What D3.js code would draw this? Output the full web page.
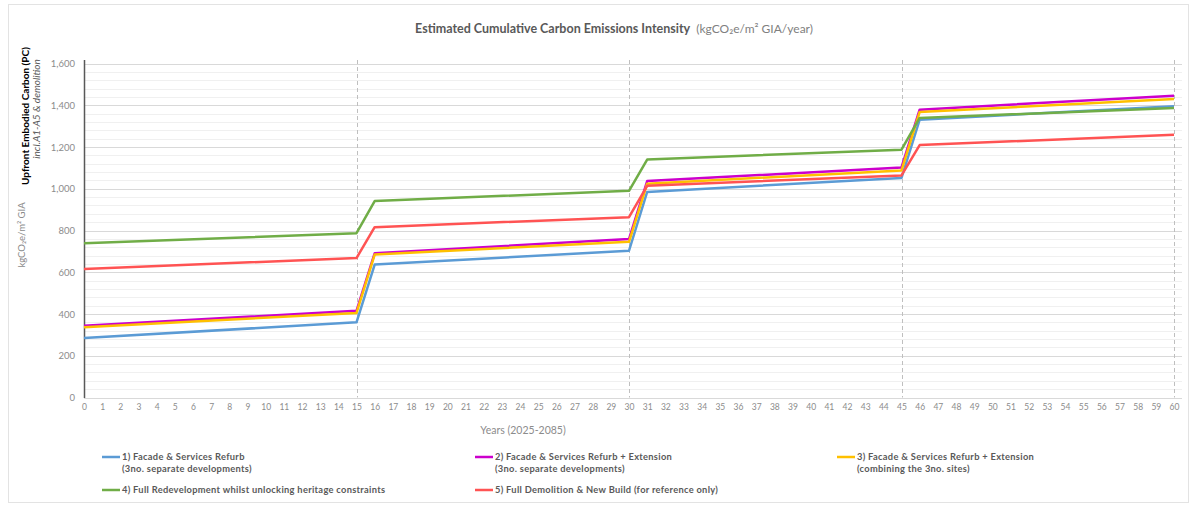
<!DOCTYPE html>
<html><head><meta charset="utf-8">
<script src="https://cdn.jsdelivr.net/npm/d3@7"></script>
<style>
html,body{margin:0;padding:0;background:#fff;}
svg{display:block;font-family:Lato,"Noto Sans",sans-serif;}
</style></head>
<body><svg id="c" width="1192" height="506"></svg>
<script>
// ---- data ----
const keyYears = [0, 15, 16, 30, 31, 45, 46, 60];
const s1 = [285, 360, 637, 703, 985, 1052, 1331, 1395];
const s2 = [344, 415, 691, 759, 1037, 1102, 1379, 1446];
const s3 = [337, 405, 685, 746, 1024, 1088, 1368, 1430];
const s4 = [739, 787, 941, 990, 1140, 1187, 1339, 1387];
const s5 = [616, 668, 816, 864, 1014, 1064, 1209, 1259];
const seriesNames = [
  ["1) Facade & Services Refurb", "(3no. separate developments)"],
  ["2) Facade & Services Refurb + Extension", "(3no. separate developments)"],
  ["3) Facade & Services Refurb + Extension", "(combining the 3no. sites)"],
  ["4) Full Redevelopment whilst unlocking heritage constraints"],
  ["5) Full Demolition & New Build (for reference only)"]
];
const seriesColors = ["#5B9BD5", "#CC00CC", "#FFC000", "#70AD47", "#FF5353"];
const xTicks = d3.range(0, 61);
const yTicks = [0, 200, 400, 600, 800, 1000, 1200, 1400, 1600];
const phaseYears = [15, 30, 45, 60];

const series = [s1, s2, s3, s4, s5];

const svg = d3.select("#c");
svg.append("rect").attr("x", 8.5).attr("y", 4.5).attr("width", 1180).attr("height", 498)
  .attr("fill", "none").attr("stroke", "#e3e3e3");

const x = d3.scaleLinear().domain([0, 60]).range([84, 1174]);
const y = d3.scaleLinear().domain([0, 1600]).range([397.5, 63.5]);
const gridRight = 1182;

const g = svg.append("g");
g.selectAll("line.minor").data(d3.range(0, 1601, 40).filter(v => v % 200 !== 0))
  .join("line").attr("x1", 84).attr("x2", gridRight)
  .attr("y1", d => Math.round(y(d)) + 0.5).attr("y2", d => Math.round(y(d)) + 0.5)
  .attr("stroke", "#f0f0f0").attr("stroke-width", 1);
g.selectAll("line.major").data(yTicks)
  .join("line").attr("x1", 84).attr("x2", gridRight)
  .attr("y1", d => Math.round(y(d)) + 0.5).attr("y2", d => Math.round(y(d)) + 0.5)
  .attr("stroke", "#d9d9d9").attr("stroke-width", 1);

svg.append("g").selectAll("line").data(phaseYears).join("line")
  .attr("x1", d => Math.round(x(d)) + 0.5).attr("x2", d => Math.round(x(d)) + 0.5)
  .attr("y1", 60).attr("y2", 397.5)
  .attr("stroke", "#bfbfbf").attr("stroke-dasharray", "4,3").attr("stroke-width", 1);

const yAxis = d3.axisLeft(y).tickValues(yTicks).tickFormat(d3.format(",")).tickSize(0).tickPadding(9);
const ya = svg.append("g").attr("transform", "translate(84,0)").call(yAxis);
ya.select(".domain").remove();
ya.selectAll("text").attr("fill", "#8c8c8c").attr("font-size", 9.5).attr("font-family", "Lato");
svg.append("line").attr("x1", 84.5).attr("x2", 84.5).attr("y1", 60).attr("y2", 398)
  .attr("stroke", "#595959").attr("stroke-width", 1.5);

const xAxis = d3.axisBottom(x).tickValues(xTicks).tickSize(0).tickPadding(6);
const xa = svg.append("g").attr("transform", "translate(0,398)").call(xAxis);
xa.select(".domain").remove();
xa.selectAll("text").attr("fill", "#8c8c8c").attr("font-size", 8.5).attr("font-family", "Lato");

const line = d3.line().x((d, i) => x(keyYears[i])).y(d => y(d));
svg.append("g").selectAll("path").data(series).join("path")
  .attr("d", d => line(d)).attr("fill", "none")
  .attr("stroke", (d, i) => seriesColors[i]).attr("stroke-width", 2.5)
  .attr("stroke-linejoin", "round");

const t = svg.append("text").attr("x", 614).attr("y", 33).attr("text-anchor", "middle")
  .attr("fill", "#595959").attr("font-size", 12.5);
t.append("tspan").attr("font-weight", 700).text("Estimated Cumulative Carbon Emissions Intensity");
t.append("tspan").attr("font-size", 12).attr("fill", "#7f7f7f").text("\u00a0\u00a0(kgCO\u2082e/m\u00b2 GIA/year)");

svg.append("text").attr("transform", "translate(29,116) rotate(-90)").attr("text-anchor", "middle")
  .attr("font-size", 10).attr("font-weight", 700).attr("fill", "#000").text("Upfront Embodied Carbon (PC)");
svg.append("text").attr("transform", "translate(40,109) rotate(-90)").attr("text-anchor", "middle")
  .attr("font-size", 10).attr("font-style", "italic").attr("fill", "#595959").text("incl.A1-A5 & demolition");
svg.append("text").attr("transform", "translate(25,235) rotate(-90)").attr("text-anchor", "middle")
  .attr("font-size", 9.5).attr("fill", "#8c8c8c").text("kgCO\u2082e/m\u00b2 GIA");

svg.append("text").attr("x", 523).attr("y", 434).attr("text-anchor", "middle")
  .attr("font-size", 10.5).attr("fill", "#8c8c8c").text("Years (2025-2085)");

const legPos = [[102, 457], [475, 457], [837, 457], [102, 490], [475, 490]];
const lg = svg.append("g").selectAll("g").data(seriesNames).join("g")
  .attr("transform", (d, i) => `translate(${legPos[i][0]},${legPos[i][1]})`);
lg.append("line").attr("x1", 0).attr("x2", 18).attr("y1", 0).attr("y2", 0)
  .attr("stroke", (d, i) => seriesColors[i]).attr("stroke-width", 2.5);
lg.each(function (d) {
  const tx = d3.select(this).append("text").attr("x", 20).attr("y", 3)
    .attr("font-size", 9.3).attr("font-weight", 700).attr("fill", "#595959")
    .attr("letter-spacing", 0.3);
  d.forEach((s, k) => tx.append("tspan").attr("x", 20).attr("dy", k === 0 ? 0 : 12).text(s));
});
</script>
</body></html>
